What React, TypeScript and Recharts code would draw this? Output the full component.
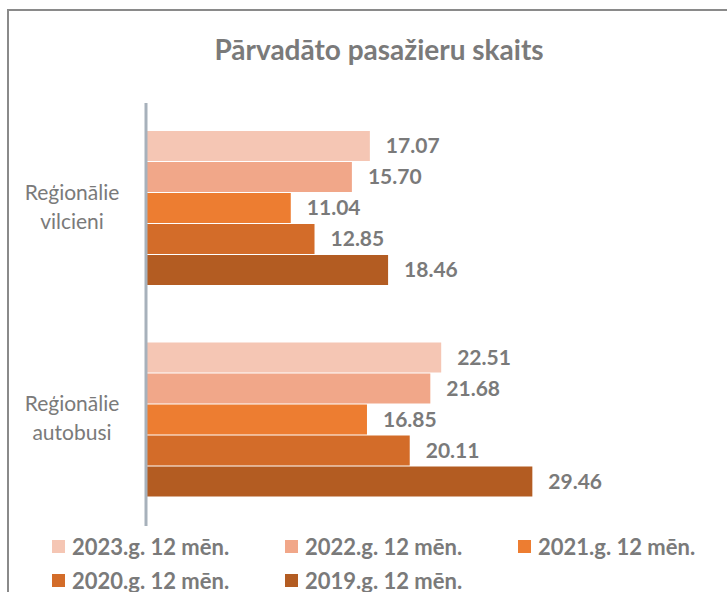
import React from 'react';
import { BarChart, Bar, XAxis, YAxis, LabelList } from 'recharts';

const categories = ['Reģionālie vilcieni', 'Reģionālie autobusi'];
const seriesNames = [
  '2023.g. 12 mēn.',
  '2022.g. 12 mēn.',
  '2021.g. 12 mēn.',
  '2020.g. 12 mēn.',
  '2019.g. 12 mēn.'
];
const values2023 = [17.07, 22.51];
const values2022 = [15.7, 21.68];
const values2021 = [11.04, 16.85];
const values2020 = [12.85, 20.11];
const values2019 = [18.46, 29.46];
const seriesColors = ['#F5C6B4', '#F1A789', '#ED7D31', '#D36C29', '#B35C22'];

const seriesValues = [values2023, values2022, values2021, values2020, values2019];
const keys = ['y2023', 'y2022', 'y2021', 'y2020', 'y2019'];

const data = categories.map((name, i) => {
  const row: Record<string, string | number> = { name };
  keys.forEach((k, s) => {
    row[k] = seriesValues[s][i];
  });
  return row;
});

const textGray = '#7A7A7A';
const font = 'Lato, "Open Sans", sans-serif';

const CategoryTick = (props: any) => {
  const { y, payload } = props;
  const words = String(payload.value).split(' ');
  return (
    <g>
      <text x={72} y={y - 9} textAnchor="middle" fill={textGray} fontSize={21} fontFamily={font}>
        {words[0]}
      </text>
      <text x={72} y={y + 20} textAnchor="middle" fill={textGray} fontSize={21} fontFamily={font}>
        {words[1]}
      </text>
    </g>
  );
};

const App: React.FC = () => {
  return (
    <div
      style={{
        position: 'absolute',
        left: 0,
        top: 0,
        width: 727,
        height: 592,
        overflow: 'hidden',
        background: '#fff',
        fontFamily: font
      }}
    >
      <div
        style={{
          position: 'absolute',
          left: 7,
          top: 9,
          width: 800,
          height: 700,
          border: '2px solid #8A8A8A'
        }}
      />
      <div
        style={{
          position: 'absolute',
          left: 0,
          top: 32,
          width: 758,
          textAlign: 'center',
          fontSize: 28,
          fontWeight: 700,
          color: textGray
        }}
      >
        Pārvadāto pasažieru skaits
      </div>
      <div style={{ position: 'absolute', left: 0, top: 0 }}>
        <BarChart
          width={727}
          height={592}
          data={data}
          layout="vertical"
          margin={{ top: 103, right: 122, bottom: 66, left: 0 }}
          barCategoryGap={28}
          barGap={1}
        >
          <XAxis type="number" domain={[0, 35]} hide />
          <YAxis
            type="category"
            dataKey="name"
            width={146}
            axisLine={{ stroke: '#A7B1BB', strokeWidth: 3 }}
            tickLine={false}
            tick={<CategoryTick />}
          />
          {keys.map((k, s) => (
            <Bar key={k} dataKey={k} name={seriesNames[s]} fill={seriesColors[s]} isAnimationActive={false}>
              <LabelList
                dataKey={k}
                position="right"
                offset={16}
                formatter={(v: any) => Number(v).toFixed(2)}
                fill={textGray}
                fontSize={21}
                fontWeight={700}
                fontFamily={font}
              />
            </Bar>
          ))}
        </BarChart>
      </div>
      {seriesNames.map((name, s) => (
        <div
          key={name}
          style={{
            position: 'absolute',
            left: 52 + (s % 3) * 233,
            top: s < 3 ? 533 : 567,
            height: 26,
            display: 'flex',
            alignItems: 'center',
            whiteSpace: 'nowrap',
            fontSize: 22,
            fontWeight: 700,
            color: textGray
          }}
        >
          <span style={{ width: 13, height: 13, background: seriesColors[s], marginRight: 7 }} />
          {name}
        </div>
      ))}
    </div>
  );
};

export default App;
